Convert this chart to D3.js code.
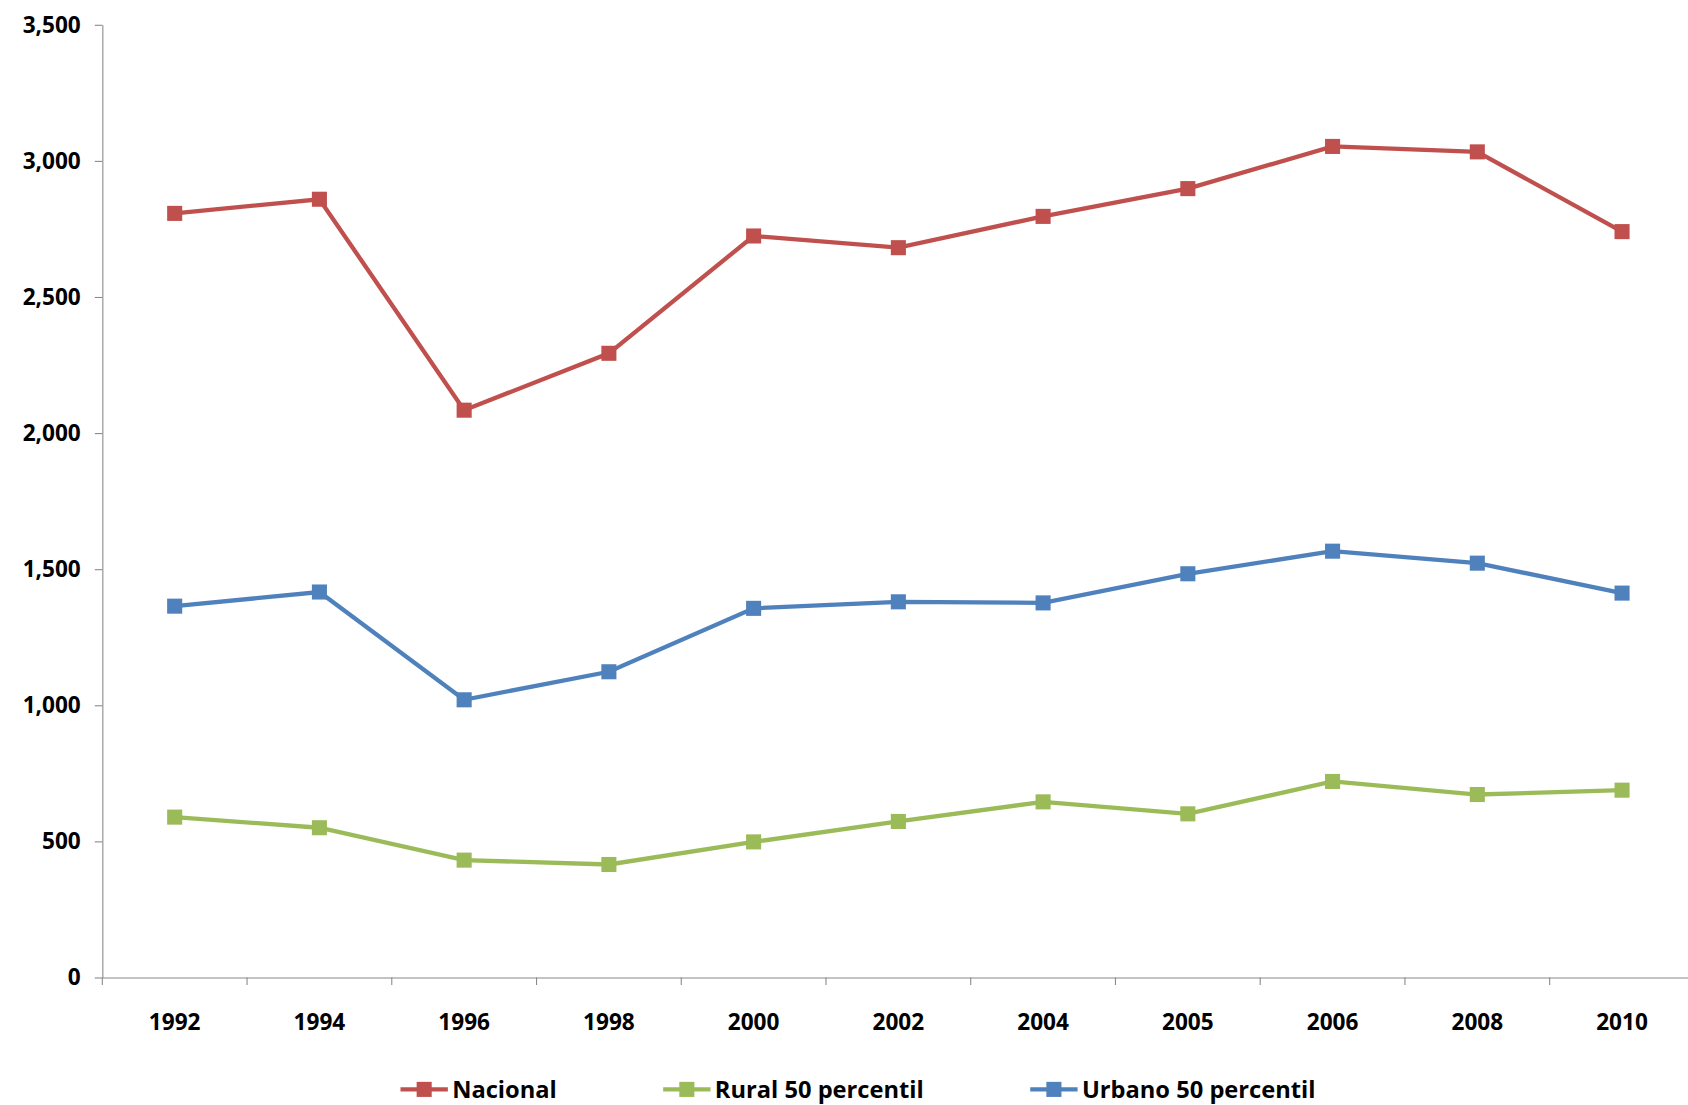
<!DOCTYPE html>
<html>
<head>
<meta charset="utf-8">
<script src="https://cdn.jsdelivr.net/npm/d3@7"></script>
<style>
  body { margin: 0; background: #fff; }
  svg { display: block; }
  text { font-family: "Open Sans", "Liberation Sans", sans-serif; font-weight: bold; }
</style>
</head>
<body>
<div id="chart"></div>
<script>
  var years = ['1992', '1994', '1996', '1998', '2000', '2002', '2004', '2005', '2006', '2008', '2010']
  var nacional = [2807, 2859, 2084, 2293, 2724, 2681, 2796, 2898, 3053, 3033, 2740]
  var rural = [589, 550, 431, 415, 498, 573, 645, 601, 720, 672, 688]
  var urbano = [1364, 1416, 1020, 1123, 1356, 1380, 1376, 1483, 1566, 1522, 1412]
  var yTicks = [0, 500, 1000, 1500, 2000, 2500, 3000, 3500]

  var series = [
    { name: 'Nacional', values: nacional, color: '#C0504D' },
    { name: 'Rural 50 percentil', values: rural, color: '#9BBB59' },
    { name: 'Urbano 50 percentil', values: urbano, color: '#4F81BD' }
  ]

  var svg = d3.select('#chart').append('svg')
              .attr('width', 1688).attr('height', 1105)
              .attr('viewBox', '0 0 1568 1026.5')

  var x = d3.scaleBand().domain(years).range([95, 1574])
  var y = d3.scaleLinear().domain([0, 3500]).range([908, 23])

  // y axis
  var yAxis = svg.append('g').attr('transform', 'translate(95,0)')
                 .call(d3.axisLeft(y).tickValues(yTicks).tickSize(7).tickSizeOuter(0)
                         .tickFormat(d3.format(',')))
  yAxis.selectAll('text').attr('font-size', 21).attr('fill', '#000').attr('dx', -10)
  yAxis.selectAll('line, path').attr('stroke', '#888')

  // x axis
  var xAxis = svg.append('g').attr('transform', 'translate(0,908)')
                 .call(d3.axisBottom(x).tickSize(0).tickSizeOuter(0))
  xAxis.selectAll('text').attr('font-size', 21).attr('fill', '#000').attr('dy', 46)
  xAxis.selectAll('path').attr('stroke', '#888')
  xAxis.selectAll('.sep').data(years).enter().append('line')
       .attr('x1', function(d) { return x(d) }).attr('x2', function(d) { return x(d) })
       .attr('y1', 0).attr('y2', 7).attr('stroke', '#888')

  var line = d3.line()
               .x(function(d, i) { return x(years[i]) + x.bandwidth() / 2 })
               .y(function(d) { return y(d) })

  series.forEach(function(s) {
    svg.append('path').datum(s.values).attr('d', line)
       .attr('fill', 'none').attr('stroke', s.color).attr('stroke-width', 4)
    svg.selectAll(null).data(s.values).enter().append('rect')
       .attr('x', function(d, i) { return x(years[i]) + x.bandwidth() / 2 - 7 })
       .attr('y', function(d) { return y(d) - 7 })
       .attr('width', 14).attr('height', 14).attr('fill', s.color)
  })

  // legend
  var legendX = [372, 616, 957]
  series.forEach(function(s, i) {
    var g = svg.append('g').attr('transform', 'translate(' + legendX[i] + ',1012)')
    g.append('line').attr('x1', 0).attr('x2', 44).attr('stroke', s.color).attr('stroke-width', 4)
    g.append('rect').attr('x', 15).attr('y', -7).attr('width', 14).attr('height', 14).attr('fill', s.color)
    g.append('text').attr('x', 48).attr('y', 8).attr('font-size', 22).text(s.name)
  })
</script>
</body>
</html>
